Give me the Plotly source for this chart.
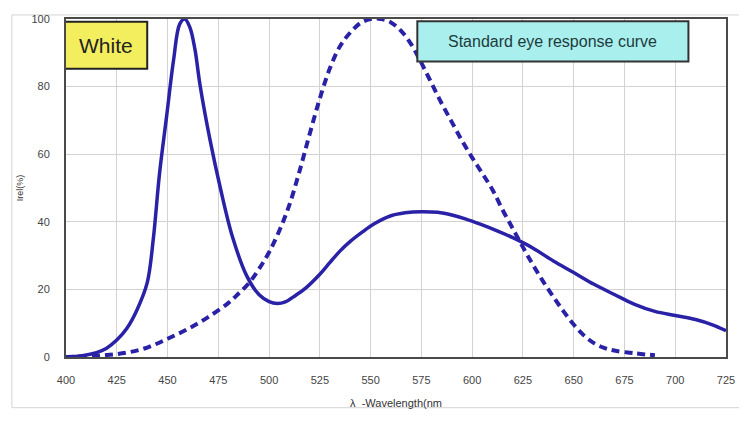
import plotly.graph_objects as go

# White LED spectrum (solid)
led_wl = [400, 408, 415, 420, 425, 430, 435, 440, 443, 446, 449.5, 453, 456, 458.5, 461,
          463.5, 466, 471, 476, 482, 489, 495, 500, 504, 508, 513, 518, 525, 530,
          535, 540, 546, 552, 560, 567, 575, 583, 590, 597, 604, 612, 620,
          630, 640, 650, 660, 670, 680, 690, 700, 710, 718, 725]
led_val = [0, 0.4, 1.3, 2.6, 5, 8.5, 14, 22, 35, 54, 71, 88, 98.5, 100, 97.5,
           91, 80.5, 64, 50, 35.5, 24, 18.5, 16.4, 15.8, 16.3, 18.2, 20.4, 24.5, 28,
           31.4, 34.2, 37, 39.5, 41.8, 42.7, 43, 42.8, 42, 40.8, 39.3, 37.4, 35.3,
           32.2, 28.4, 25, 21.5, 18.5, 15.6, 13.5, 12.3, 11.1, 9.6, 7.8]

# Standard eye response curve (dashed)
eye_wl = [400, 410, 420, 430, 440, 450, 460, 470, 480, 485, 490, 495, 500, 505, 510, 515,
          520, 525, 530, 535, 540, 545, 550, 555, 560, 565, 570, 575, 580, 585, 590, 595,
          600, 605, 610, 615, 620, 625, 630, 635, 640, 645, 650, 655, 660, 665, 670, 680, 690]
eye_val = [0, 0.2, 0.6, 1.3, 2.8, 5.4, 8.3, 11.8, 16, 18.8, 21.8, 26, 31, 37.3, 45, 55,
           66, 76.5, 85.5, 92, 96, 98.8, 100, 100, 99, 96.5, 92.5, 87, 81, 75, 69.5, 64,
           59, 54.3, 49.5, 43.5, 38, 32.5, 27.2, 22.3, 17.8, 13.5, 9.6, 6.4, 4.1, 2.7, 1.9, 1.1, 0.5]

x_ticks = [400, 425, 450, 475, 500, 525, 550, 575, 600, 625, 650, 675, 700, 725]
y_ticks = [0, 20, 40, 60, 80, 100]

line_color = "#2a22a6"

fig = go.Figure()
fig.add_trace(go.Scatter(x=eye_wl, y=eye_val, mode="lines",
                         line=dict(color=line_color, width=4, dash="8px,5px", shape="spline"),
                         showlegend=False, hoverinfo="skip"))
fig.add_trace(go.Scatter(x=led_wl, y=led_val, mode="lines",
                         line=dict(color=line_color, width=3.5, shape="spline"),
                         showlegend=False, hoverinfo="skip"))

shapes = [
    # outer light border
    dict(type="rect", xref="paper", yref="paper", x0=-0.082, x1=1.021, y0=-0.15, y1=1.012,
         line=dict(color="#d4d4d4", width=1), layer="below"),
    # White label box
    dict(type="rect", xref="x", yref="y", x0=399.5, x1=440, y0=85.3, y1=99.2,
         fillcolor="#f3ee5e", line=dict(color="#222222", width=2)),
    # eye response label box
    dict(type="rect", xref="x", yref="y", x0=573, x1=706.5, y0=87.4, y1=99.3,
         fillcolor="#a8efee", line=dict(color="#333333", width=2)),
]

annotations = [
    dict(x=419.8, y=92.3, xref="x", yref="y", text="White", showarrow=False,
         font=dict(family="Arial, Liberation Sans", size=21, color="#222222")),
    dict(x=639.7, y=93.3, xref="x", yref="y", text="Standard eye response curve", showarrow=False,
         font=dict(family="Arial, Liberation Sans", size=16, color="#1f3b3b")),
]

fig.update_layout(
    width=739, height=405,
    margin=dict(l=58, r=21, t=5, b=50),
    paper_bgcolor="white", plot_bgcolor="white",
    shapes=shapes, annotations=annotations,
    font=dict(family="Arial, Liberation Sans", color="#444444"),
    xaxis=dict(range=[400, 725], tickvals=x_ticks, ticktext=[str(v) for v in x_ticks],
               showgrid=True, gridcolor="#d2d2d2", gridwidth=1,
               showline=True, linecolor="#4a4a4a", linewidth=2, mirror=True,
               ticks="", ticklabelstandoff=12, tickfont=dict(size=11, color="#444444"),
               ticklabeloverflow="allow", zeroline=False,
               title=dict(text="λ  -Wavelength(nm", font=dict(size=11, color="#333333"), standoff=14)),
    yaxis=dict(range=[0, 100], tickvals=y_ticks, ticktext=[str(v) for v in y_ticks],
               showgrid=True, gridcolor="#d2d2d2", gridwidth=1,
               showline=True, linecolor="#4a4a4a", linewidth=2, mirror=True,
               ticks="", ticklabelstandoff=12, tickfont=dict(size=11, color="#444444"),
               ticklabeloverflow="allow", zeroline=False,
               title=dict(text="Irel(%)", font=dict(size=9, color="#333333"), standoff=6)),
)

fig.write_html("out.html")
